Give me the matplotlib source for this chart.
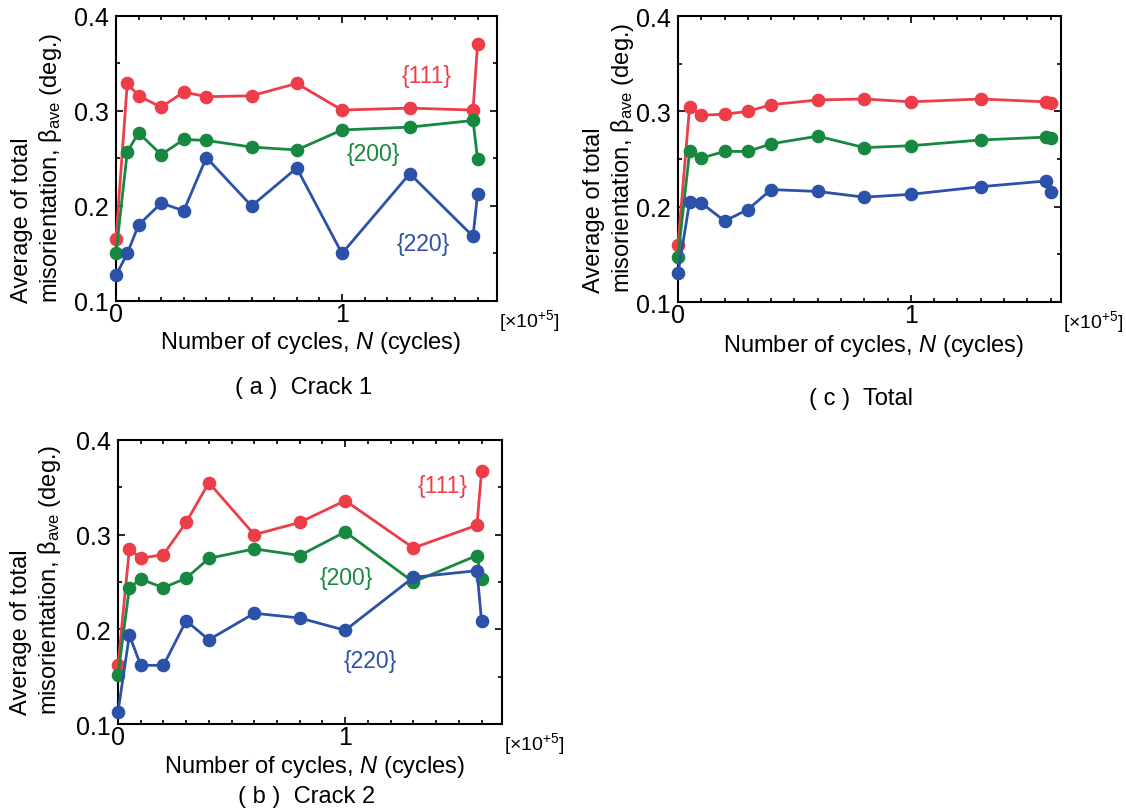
import numpy as np
import matplotlib.pyplot as plt
from matplotlib.ticker import MultipleLocator

plt.rcParams['font.family'] = ['Liberation Sans', 'DejaVu Sans']
plt.rcParams['mathtext.fontset'] = 'custom'
plt.rcParams['mathtext.rm'] = 'Liberation Sans'
plt.rcParams['mathtext.it'] = 'Liberation Sans:italic'
plt.rcParams['mathtext.bf'] = 'Liberation Sans:bold'

# number of cycles (x10^5)
cycles = [0, 0.05, 0.1, 0.2, 0.3, 0.4, 0.6, 0.8, 1.0, 1.3, 1.58, 1.6]

# (a) crack 1
crack1_111 = [0.165, 0.329, 0.316, 0.304, 0.320, 0.315, 0.316, 0.329, 0.301, 0.303, 0.301, 0.371]
crack1_200 = [0.150, 0.257, 0.277, 0.254, 0.270, 0.269, 0.262, 0.259, 0.280, 0.283, 0.290, 0.249]
crack1_220 = [0.127, 0.150, 0.180, 0.203, 0.195, 0.251, 0.200, 0.240, 0.150, 0.234, 0.168, 0.213]

# (b) crack 2
crack2_111 = [0.162, 0.285, 0.275, 0.279, 0.313, 0.355, 0.300, 0.313, 0.336, 0.286, 0.310, 0.367]
crack2_200 = [0.152, 0.244, 0.253, 0.244, 0.254, 0.275, 0.285, 0.278, 0.303, 0.250, 0.278, 0.253]
crack2_220 = [0.113, 0.194, 0.162, 0.162, 0.209, 0.189, 0.217, 0.212, 0.199, 0.255, 0.262, 0.209]

# (c) total
total_111 = [0.160, 0.305, 0.296, 0.297, 0.300, 0.307, 0.312, 0.313, 0.310, 0.313, 0.310, 0.309]
total_200 = [0.147, 0.258, 0.251, 0.258, 0.258, 0.266, 0.274, 0.262, 0.264, 0.270, 0.273, 0.272]
total_220 = [0.130, 0.205, 0.204, 0.185, 0.197, 0.218, 0.216, 0.210, 0.213, 0.221, 0.227, 0.215]

red = '#ec3d48'
green = '#17883f'
blue = '#2b52a8'

fig = plt.figure(figsize=(11.26, 8.12), dpi=100)

panels = [
    # axes rect, xmax, series, label positions, caption, caption pos (px), xlabel y (px), ylabel pos
    ([0.1030, 0.6281, 0.3384, 0.3510], 1.686,
     (crack1_111, crack1_200, crack1_220),
     [(1.376, 0.337), (1.137, 0.255), (1.36, 0.160)],
     '( a )  Crack 1', (304, 388), 343, (-0.205, 0.472)),
    ([0.1048, 0.1071, 0.3410, 0.3498], 1.69,
     (crack2_111, crack2_200, crack2_220),
     [(1.43, 0.352), (1.005, 0.255), (1.11, 0.167)],
     '( b )  Crack 2', (307, 797), 767, (-0.211, 0.512)),
    ([0.6021, 0.6268, 0.3401, 0.3522], 1.644,
     (total_111, total_200, total_220),
     None,
     '( c )  Total', (861, 399), 346, (-0.178, 0.507)),
]

for rect, xmax, series, label_pos, caption, cap_pos, xl_y, yl_pos in panels:
    ax = fig.add_axes(rect)
    for vals, c in zip(series, (red, green, blue)):
        ax.plot(cycles, vals, '-o', color=c, lw=2.0, ms=8.8, clip_on=False, zorder=3)
    ax.set_xlim(0, xmax)
    ax.set_ylim(0.1, 0.4)
    ax.xaxis.set_minor_locator(MultipleLocator(0.1))
    ax.yaxis.set_minor_locator(MultipleLocator(0.05))
    ax.set_xticks([0, 1])
    ax.set_xticklabels(['0', '1'])
    ax.set_yticks([0.1, 0.2, 0.3, 0.4])
    ax.set_yticklabels(['0.1', '0.2', '0.3', '0.4'])
    ax.tick_params(which='both', direction='in', top=True, right=True, width=1.2)
    ax.tick_params(which='major', length=5, labelsize=18)
    ax.tick_params(which='minor', length=3)
    ax.tick_params(axis='x', pad=1)
    ax.tick_params(axis='y', pad=5)
    for sp in ax.spines.values():
        sp.set_linewidth(1.5)

    ax.text(yl_pos[0], yl_pos[1], 'Average of total\nmisorientation, β$_{\\rm ave}$ (deg.)',
            rotation=90, ha='center', va='center', multialignment='left',
            fontsize=17, transform=ax.transAxes)
    ax.text(1.005, -0.02, '[×10$^{+5}$]', ha='left', va='top', fontsize=14,
            transform=ax.transAxes)

    x0 = rect[0] + rect[2] / 2
    fig.text(x0 + 0.004, 1 - xl_y / 812,
             'Number of cycles, $N$ (cycles)', ha='center', va='center', fontsize=17)
    fig.text(cap_pos[0] / 1126, 1 - cap_pos[1] / 812, caption,
             ha='center', va='center', fontsize=17)

    if label_pos:
        for (lx, ly), txt, c in zip(label_pos, ('{111}', '{200}', '{220}'), (red, green, blue)):
            ax.text(lx, ly, txt, color=c, fontsize=16.5, ha='center', va='center')

fig.savefig('out.png', dpi=100)
